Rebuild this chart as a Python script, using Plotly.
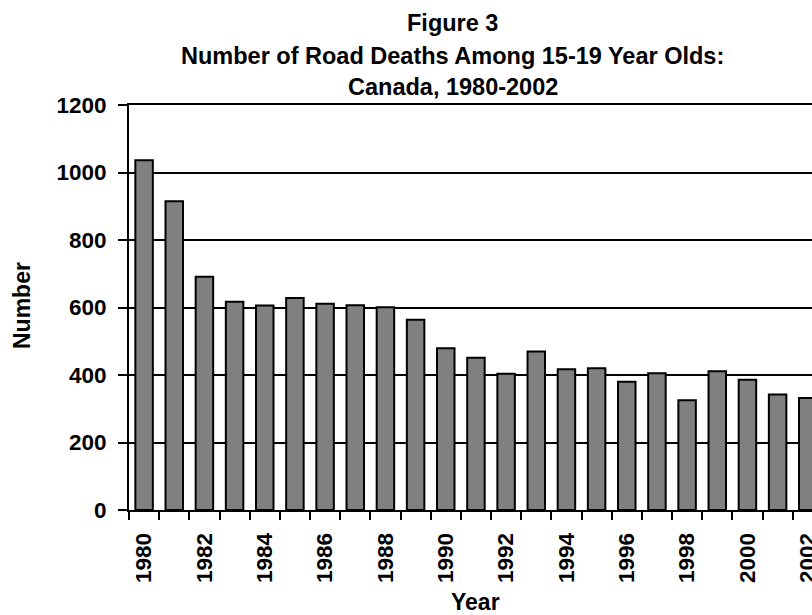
import plotly.graph_objects as go

years = list(range(1980, 2003))
deaths = [1036, 915, 691, 617, 606, 628, 611, 607, 601, 564, 479, 451,
          404, 470, 417, 420, 380, 405, 325, 411, 386, 342, 332]
y_ticks = [0, 200, 400, 600, 800, 1000, 1200]
x_label_years = years[::2]

title_lines = ["Figure 3",
               "Number of Road Deaths Among 15-19 Year Olds:",
               "Canada, 1980-2002"]

FONT = "Liberation Sans, Arial, sans-serif"
fs_tick = 22.5
fs_title = 23.5
fs_axis = 23

fig = go.Figure()
fig.add_trace(go.Bar(
    x=years, y=deaths,
    marker=dict(color="#808080", line=dict(color="black", width=2)),
    showlegend=False, hoverinfo="skip",
))

x_range = [years[0] - 0.5, years[-1] + 0.14]
boundaries = [v - 0.5 for v in years] + [years[-1] + 0.5]

fig.update_layout(
    width=812, height=615,
    margin=dict(l=129, r=0, t=105, b=105),
    paper_bgcolor="white", plot_bgcolor="white",
    bargap=0.42,
    font=dict(family=FONT, size=fs_tick, color="black", weight="bold"),
    xaxis=dict(
        range=x_range, tickmode="array", tickvals=x_label_years,
        ticktext=[str(v) for v in x_label_years],
        tickangle=-90, ticks="", showgrid=False, zeroline=False,
        showline=True, linecolor="black", linewidth=2, mirror=True,
        tickfont=dict(family=FONT, size=fs_tick, weight="bold"),
        ticklabelstandoff=12, automargin=False,
        ticklabeloverflow="allow",
        minor=dict(tickmode="array", tickvals=boundaries, ticks="outside",
                   ticklen=8, tickwidth=2, tickcolor="black", showgrid=False),
    ),
    yaxis=dict(
        range=[0, 1200], tickmode="array", tickvals=y_ticks,
        ticks="outside", ticklen=9, tickwidth=2, tickcolor="black",
        showgrid=True, gridcolor="black", gridwidth=2,
        zeroline=False, showline=True, linecolor="black", linewidth=2,
        tickfont=dict(family=FONT, size=fs_tick, weight="bold"),
        ticklabelstandoff=7, automargin=False,
    ),
)

def py(p):
    return (510 - p) / 405

def px_(p):
    return (p - 129) / 683

for line, yc in zip(title_lines, [23, 56, 87]):
    fig.add_annotation(text=line, xref="paper", yref="paper",
                       x=px_(452.5), y=py(yc), xanchor="center", yanchor="middle",
                       showarrow=False, font=dict(family=FONT, size=fs_title, weight="bold"))

fig.add_annotation(text="Number", xref="paper", yref="paper",
                   x=px_(22), y=py(306), xanchor="center", yanchor="middle",
                   textangle=-90, showarrow=False,
                   font=dict(family=FONT, size=fs_axis, weight="bold"))
fig.add_annotation(text="Year", xref="paper", yref="paper",
                   x=px_(475), y=py(602), xanchor="center", yanchor="middle",
                   showarrow=False, font=dict(family=FONT, size=fs_axis, weight="bold"))

fig.write_html("out.html", config={"displayModeBar": False},
               post_script="document.body.style.margin='0px';")
